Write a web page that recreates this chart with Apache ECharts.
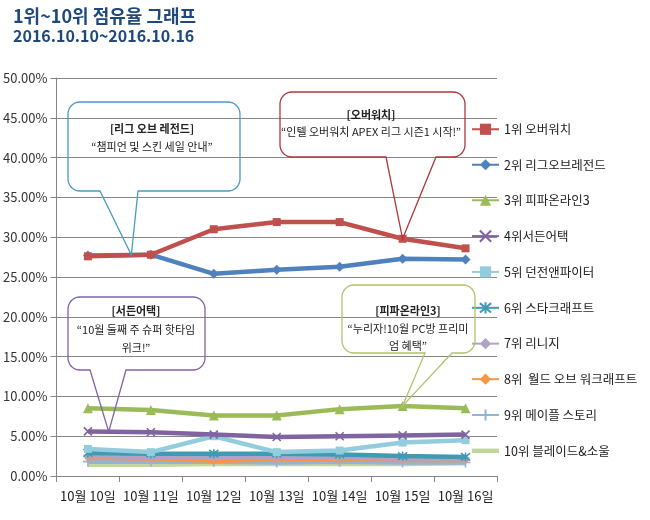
<!DOCTYPE html>
<html>
<head>
<meta charset="utf-8">
<script src="https://cdn.jsdelivr.net/npm/echarts@6/dist/echarts.min.js"></script>
<style>
html,body{margin:0;padding:0;background:#fff;}
#c{width:650px;height:520px;}
</style>
</head>
<body>
<div id="c"></div>
<script>
const categories = ['10월 10일','10월 11일','10월 12일','10월 13일','10월 14일','10월 15일','10월 16일'];
const seriesNames = ['1위 오버워치','2위 리그오브레전드','3위 피파온라인3','4위서든어택','5위 던전앤파이터','6위 스타크래프트','7위 리니지','8위  월드 오브 워크래프트','9위 메이플 스토리','10위 블레이드&소울'];
const overwatch   = [27.6, 27.8, 31.0, 31.9, 31.9, 29.8, 28.6];
const lol         = [27.7, 27.8, 25.4, 25.9, 26.3, 27.3, 27.2];
const fifa3       = [8.5, 8.3, 7.6, 7.6, 8.4, 8.8, 8.5];
const suddenAttack= [5.6, 5.5, 5.2, 4.9, 5.0, 5.1, 5.2];
const dnf         = [3.4, 3.0, 5.0, 3.0, 3.2, 4.2, 4.5];
const starcraft   = [2.9, 2.8, 2.8, 2.8, 2.7, 2.5, 2.4];
const lineage     = [2.5, 2.4, 2.3, 2.3, 2.3, 2.2, 2.2];
const wow         = [2.3, 2.2, 1.9, 2.1, 2.1, 2.0, 2.0];
const maple       = [1.8, 1.8, 1.8, 1.7, 1.8, 1.7, 1.7];
const bns         = [1.4, 1.4, 1.5, 1.5, 1.5, 1.5, 1.6];
const yTicks = [0, 5, 10, 15, 20, 25, 30, 35, 40, 45, 50];

const allData = [overwatch, lol, fifa3, suddenAttack, dnf, starcraft, lineage, wow, maple, bns];
const colors = ['#C0504D','#4F81BD','#9BBB59','#8064A2','#93CDDD','#3E9BB3','#B3A2C7','#F79646','#95B3D7','#C3D69B'];
const X = 'path://M0,0L10,10M10,0L0,10';
const STAR = 'path://M0,0L10,10M10,0L0,10M5,-1L5,11';
const PLUS = 'path://M5,0L5,10M0,5L10,5';
const symbols = ['rect','diamond','triangle',X,'rect',STAR,'diamond','diamond',PLUS,'none'];
const sizes = [8,10,10,8,8,9,9,8,10,1];

const FONT = '"Noto Sans CJK KR", "Noto Sans", sans-serif';
const chart = echarts.init(document.getElementById('c'), null, {renderer:'canvas'});

const series = allData.map((d, i) => ({
  name: seriesNames[i],
  type: 'line',
  data: d,
  symbol: symbols[i],
  symbolSize: sizes[i],
  showSymbol: symbols[i] !== 'none',
  lineStyle: { width: 4.5, color: colors[i] },
  itemStyle: { color: colors[i], borderColor: colors[i], borderWidth: (symbols[i].indexOf('path')===0 ? 1.6 : 0) },
  z: 10 - i,
  animation: false
}));

const legendData = seriesNames.map((n, i) => i === 9
  ? { name: n, icon: 'path://M0,0L30,0L30,5L0,5Z' }
  : { name: n });

chart.setOption({
  animation: false,
  textStyle: { fontFamily: FONT },
  title: {
    text: '1위~10위 점유율 그래프',
    subtext: '2016.10.10~2016.10.16',
    left: 8, top: 2, itemGap: 3,
    textStyle: { fontSize: 18, fontWeight: 'bold', color: '#1F497D', fontFamily: FONT },
    subtextStyle: { fontSize: 16, fontWeight: 'bold', color: '#1F497D', fontFamily: FONT }
  },
  legend: {
    orient: 'vertical',
    left: 466, top: 118,
    itemWidth: 27, itemHeight: 14, itemGap: 23,
    symbolKeepAspect: true,
    textStyle: { fontSize: 12.5, color: '#222', fontFamily: FONT },
    data: legendData
  },
  grid: { left: 55, right: 153, top: 78, bottom: 44 },
  xAxis: {
    type: 'category',
    data: categories,
    boundaryGap: true,
    axisLine: { show: true, lineStyle: { color: '#868686', width: 1 } },
    axisTick: { show: true, length: 6, lineStyle: { color: '#868686' } },
    axisLabel: { interval: 0, fontSize: 13, color: '#222', margin: 14, fontFamily: FONT }
  },
  yAxis: {
    type: 'value',
    min: yTicks[0], max: yTicks[yTicks.length-1], interval: 5,
    axisLine: { show: true, lineStyle: { color: '#868686', width: 1 } },
    axisTick: { show: true, length: 6, lineStyle: { color: '#868686' } },
    axisLabel: { fontSize: 13, color: '#333', margin: 9, formatter: v => v.toFixed(2) + '%', fontFamily: FONT },
    splitLine: { show: true, lineStyle: { color: '#868686', width: 1 } }
  },
  series: series
});

function px(si, idx) { return chart.convertToPixel({seriesIndex: si}, [idx, allData[si][idx]]); }
function between(si, i, f) {
  const a = px(si, i), b = px(si, i + 1);
  return [a[0] + (b[0] - a[0]) * f, a[1] + (b[1] - a[1]) * f];
}
function arc(pts, cx, cy, r, a0, a1) {
  const n = 8;
  for (let k = 0; k <= n; k++) {
    const a = a0 + (a1 - a0) * k / n;
    pts.push([cx + r * Math.cos(a), cy + r * Math.sin(a)]);
  }
}
function calloutPoints(x, y, w, h, r, b1, b2, tip) {
  const B = y + h, R = x + w, P = Math.PI;
  const pts = [];
  arc(pts, x + r, y + r, r, P, 1.5 * P);        // top-left
  arc(pts, R - r, y + r, r, 1.5 * P, 2 * P);    // top-right
  arc(pts, R - r, B - r, r, 0, 0.5 * P);        // bottom-right
  pts.push([b2, B]); pts.push(tip); pts.push([b1, B]);
  arc(pts, x + r, B - r, r, 0.5 * P, P);        // bottom-left
  pts.push(pts[0].slice());
  return pts;
}
function callout(box, b1, b2, tip, color, lines, cx, ys) {
  const els = [{
    type: 'polyline', z: 100,
    shape: { points: calloutPoints(box[0], box[1], box[2], box[3], 12, b1, b2, tip) },
    style: { fill: null, stroke: color, lineWidth: 1.3 }
  }];
  lines.forEach((t, k) => {
    els.push({
      type: 'text', z: 101, x: cx, y: ys[k],
      style: { text: t, fill: '#222', font: (k === 0 ? 'bold ' : '') + '11px ' + FONT, align: 'center', verticalAlign: 'middle' }
    });
  });
  return els;
}

const g = [].concat(
  callout([68, 102, 172, 89], 100, 138, between(1, 0, 0.69), '#4A9BC4',
          ['[리그 오브 레전드]', '“챔피언 및 스킨 세일 안내”'], 152, [129, 147]),
  callout([280, 92, 185, 65], 386, 436, px(0, 5), '#B0383A',
          ['[오버워치]', '“인텔 오버워치 APEX 리그 시즌1 시작!”'], 371, [115, 132]),
  callout([68, 297, 137, 73], 90, 126, between(3, 0, 0.33), '#8064A2',
          ['[서든어택]', '“10월 둘째 주 슈퍼 핫타임', '위크!”'], 136, [311, 330, 348]),
  callout([342, 285, 133, 68], 425, 452, px(2, 5), '#AFC46E',
          ['[피파온라인3]', '“누리자!10월 PC방 프리미', '엄 혜택”'], 408, [311, 329, 346])
);
chart.setOption({ graphic: g });
</script>
</body>
</html>
